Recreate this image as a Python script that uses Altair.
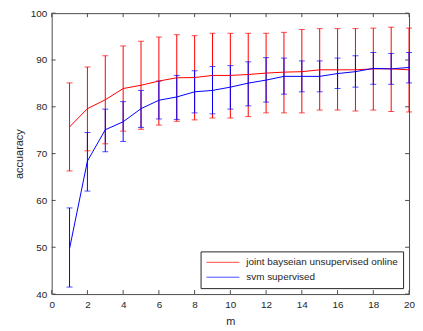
import altair as alt
import pandas as pd

m = list(range(1, 21))
series_names = ["joint bayseian unsupervised online", "svm supervised"]
colors = ["#FF0000", "#0000FF"]

red_mean = [75.7, 79.6, 81.5, 83.9, 84.6, 85.5, 86.2, 86.25, 86.7, 86.7,
            86.9, 87.2, 87.4, 87.5, 87.9, 87.9, 87.9, 88.1, 88.1, 87.9]
red_hi = [85.1, 88.5, 90.9, 93.0, 94.0, 94.9, 95.4, 95.2, 95.7, 95.7,
          95.7, 95.7, 95.9, 96.5, 96.7, 96.7, 96.7, 96.8, 97.0, 96.8]
red_lo = [66.3, 70.6, 72.1, 74.8, 75.2, 76.1, 76.9, 77.2, 77.6, 77.6,
          77.9, 78.7, 78.7, 78.7, 79.3, 79.3, 79.1, 79.3, 79.0, 78.9]
blue_mean = [49.7, 68.4, 75.1, 76.8, 79.6, 81.4, 82.1, 83.2, 83.5, 84.2,
             85.05, 85.7, 86.5, 86.5, 86.5, 87.1, 87.5, 88.2, 88.1, 88.4]
blue_hi = [58.4, 74.5, 79.5, 81.1, 83.5, 85.5, 86.7, 87.7, 88.6, 88.8,
           89.6, 90.5, 90.4, 89.8, 89.8, 90.4, 90.9, 91.6, 91.4, 91.6]
blue_lo = [41.5, 62.0, 70.4, 72.6, 75.6, 77.4, 77.3, 78.7, 78.5, 79.5,
           80.2, 81.0, 82.7, 83.2, 83.2, 83.9, 84.2, 84.8, 84.8, 85.1]

x_ticks = [0, 2, 4, 6, 8, 10, 12, 14, 16, 18, 20]
y_ticks = [40, 50, 60, 70, 80, 90, 100]

rows = []
for i, mv in enumerate(m):
    rows.append({"series": series_names[0], "order": 0, "m": mv,
                 "mean": red_mean[i], "lo": red_lo[i], "hi": red_hi[i]})
for i, mv in enumerate(m):
    rows.append({"series": series_names[1], "order": 1, "m": mv,
                 "mean": blue_mean[i], "lo": blue_lo[i], "hi": blue_hi[i]})
df = pd.DataFrame(rows)

W, H = 360, 283
AXC = "#4d4d4d"
TXT = "#262626"
FONT = "Liberation Sans"

xscale = alt.Scale(domain=[0, 20], nice=False, zero=False)
yscale = alt.Scale(domain=[40, 100], nice=False, zero=False)
cscale = alt.Scale(domain=series_names, range=colors)

xaxis = alt.Axis(title="m", values=x_ticks, grid=False, ticks=False, domain=False,
                 labelPadding=6, titlePadding=6, labelFlush=False, labelOverlap=False)
yaxis = alt.Axis(title="accuaracy", values=y_ticks, grid=False, ticks=False, domain=False,
                 labelPadding=5, titlePadding=6, labelFlush=False, labelOverlap=False)
legend = alt.Legend(title=None, orient="none", legendX=150, legendY=240,
                    strokeColor=TXT, fillColor="white", padding=5,
                    symbolType="stroke", symbolSize=1100, clipHeight=12,
                    symbolStrokeWidth=1, labelFontSize=10,
                    labelColor=TXT, labelFont=FONT, rowPadding=3,
                    labelOffset=6, cornerRadius=0)


def X(f):
    return alt.X(f, scale=xscale, axis=xaxis)


def Y(f):
    return alt.Y(f, scale=yscale, axis=yaxis)


def C():
    return alt.Color("series:N", scale=cscale, sort=series_names, legend=legend)


base = alt.Chart(df)

err = base.mark_rule(strokeWidth=1).encode(
    x=X("m:Q"), y=Y("lo:Q"), y2="hi:Q", color=C())

cap_lo = base.mark_tick(orient="horizontal", size=6, thickness=1).encode(
    x=X("m:Q"), y=Y("lo:Q"), color=C())
cap_hi = base.mark_tick(orient="horizontal", size=6, thickness=1).encode(
    x=X("m:Q"), y=Y("hi:Q"), color=C())

line = base.mark_line(strokeWidth=1).encode(
    x=X("m:Q"), y=Y("mean:Q"), color=C(), order="order:Q")

xt = pd.DataFrame({"t": x_ticks})
yt = pd.DataFrame({"t": y_ticks})

tick_b = alt.Chart(xt).mark_rule(color=AXC).encode(
    x=X("t:Q"), y=alt.value(H), y2=alt.value(H - 4))
tick_t = alt.Chart(xt).mark_rule(color=AXC).encode(
    x=X("t:Q"), y=alt.value(0), y2=alt.value(4))
tick_l = alt.Chart(yt).mark_rule(color=AXC).encode(
    y=Y("t:Q"), x=alt.value(0), x2=alt.value(4))
tick_r = alt.Chart(yt).mark_rule(color=AXC).encode(
    y=Y("t:Q"), x=alt.value(W), x2=alt.value(W - 4))

chart = alt.layer(
    err, cap_lo, cap_hi, line, tick_b, tick_t, tick_l, tick_r
).properties(
    width=W, height=H,
    autosize=alt.AutoSizeParams(type="none"),
    padding={"left": 44, "top": 4, "right": 6, "bottom": 36},
).configure_view(
    stroke=AXC, strokeWidth=1
).configure_axis(
    labelFont=FONT, labelFontSize=10, labelColor=TXT,
    titleFont=FONT, titleFontSize=11, titleColor=TXT, titleFontWeight="normal",
)

chart.save("out.html", embed_options={"renderer": "svg", "actions": False})
